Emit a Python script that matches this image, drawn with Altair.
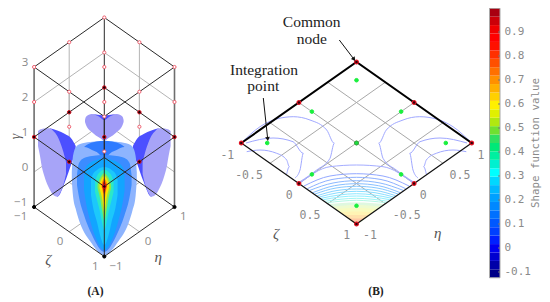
import altair as alt
import pandas as pd

# ---- axes of the two wireframes: (zeta, eta, gamma)
WIRE_BLACK = [
    [(-1,-1,3),(-1,1,3),(1,1,3),(1,-1,3),(-1,-1,3)],
    [(-1,-1,1),(-1,1,1),(1,1,1),(1,-1,1),(-1,-1,1)],
    [(-1,-1,-1),(-1,1,-1),(1,1,-1),(1,-1,-1),(-1,-1,-1)],
    [(1,-1,-1),(1,-1,3)],
    [(-1,1,-1),(-1,1,3)],
]
WIRE_SIDES = [[(-1,-1,-1),(-1,-1,3)], [(1,1,-1),(1,1,3)]]
WIRE_GRAY = [
    [(-1,-1,2),(-1,1,2),(1,1,2)],
    [(-1,-1,0),(-1,1,0),(1,1,0)],
    [(0,-1,-1),(0,1,-1)],
    [(-1,0,-1),(1,0,-1)],
    [(0,-1,1),(0,-1,3)],
    [(-1,0,1),(-1,0,3)],
    [(1,0,1),(1,0,3)],
    [(0,1,1),(0,1,3)],
]
NODES_SOLID = [(-1,-1,1),(1,1,1),(-1,0,1),(0,1,1),(-1,1,1),(0,-1,1),(1,0,1),(1,-1,1),(0,0,1)]
NODES_BASE = [(-1,-1,-1),(1,1,-1),(1,-1,-1)]
NODES_OPEN = [(-1,1,3),(-1,0,3),(0,1,3),(-1,-1,3),(1,1,3),(-1,1,2),(0,-1,3),(1,0,3),(0,0,3),
              (0,-1,2),(1,0,2),(0,0,2),(-1,-1,2),(1,1,2),(1,-1,3),(1,-1,2)]

# ---- solids of panel A: half outline, mirrored around the axis
AXIS_A = 104.3
LAYERS_A = [
    ("#8db4fe", [71.8,73,76,80,90,104.3], [172,156,147,144,142,141], [180,196,210,223,241,255]),
    ("#2e7bff", [84,88.3,92,96.7,104.3], [147,144,142.5,141.5,140.7], [147,148,150,152,158]),
    ("#3b8cff", [77,79,84,92,104.3], [175,163,158,156,155], [185,197,215,235,252]),
    ("#12a5ff", [84,85.5,90,96.7,104.3], [176,168,163,160,158], [190,200,220,240,250]),
    ("#1cc8fb", [91,93,97,100,104.3], [180,174,170,168,167], [195,207,222,235,245]),
    ("#2be8c8", [95,97,100,102,104.3], [182,176,172,170.5,170], [192,200,212,222,230]),
    ("#8de84a", [97.5,100,102,104.3], [185,178,175,173], [188,198,210,220]),
    ("#ffe000", [99.5,102,104.3], [184,178,176], [188,198,212]),
    ("#ff8a00", [101.5,103,104.3], [184,180,178.5], [186,193,202]),
    ("#f01000", [102.5,104.3], [185,181], [186,194]),
]
TOP_LOBE = [
    ("#a09cf8", [85,86,91.7,100,104.3], [120,116.7,114,115,117], [122,125,132,138,140.7]),
    ("#4c50ff", [93,98,104.3], [114.5,115,115.5], [114.5,116,120]),
]
SIDE_DARK = ([50,57.3,65,71.7,75.7], [128.3,130.5,134,139,146], [129,196.7,181.7,163,152])
SIDE_PALE = ([38,40,41.7,44,50,53.3,57.3,60,63.3,66],
             [131,129.5,129,128.5,128.3,131,136,142,151.7,162],
             [146,156,166,175,190,195,196.7,193,185,174])

# ---- contours of panel B
AXIS_B = 356.5
LOBE_OUTER = [(241.7,142.7),(260,126.7),(276.7,119),(293.3,116.7),(310,120),(326.7,130),(334.3,143.3),(330,158.3),(316.7,170),(300,181.7)]
LOBE_MIDDLE = [(246,143),(273,138),(293,141.7),(303.3,153.3),(300,170),(295,178)]
LOBE_INNER = [(246.7,151.7),(260,150),(276.7,153.3),(286.7,160),(289.3,166.7),(286.7,174)]
# left end x, left end y, shoulder x, shoulder y, apex y, colour
ARCS = [
    (299.5,183.5,330,166.7,165,"#a4acff"),
    (304,186,330,176,173.7,"#93a8ff"),
    (307.3,188.7,332,179.5,177.3,"#8eb0ff"),
    (310,190.3,333,183,180.7,"#8ab8ff"),
    (312.7,192.7,334.5,185.7,183.7,"#88c0ff"),
    (315,194,336,188,186.3,"#88caff"),
    (317.3,195.7,337,190.5,189,"#88d4ff"),
    (319.3,197,338,192.7,191.3,"#88deff"),
    (321.3,198.3,339,195,193.7,"#8ce8ff"),
    (323.3,199.7,340,197,196,"#92f0ff"),
    (325.3,201.3,341,199.2,198.3,"#a0f6f4"),
    (327.3,202.7,342,201.1,200.3,"#b4f8e4"),
]
TIP_FILLS = [
    (328,204,202.5,"#dff8e0"),
    (332,206.5,205,"#eefbd0"),
    (336,209,208,"#f8fbc0"),
    (340,212,211.5,"#fff4b4"),
    (344,215,215,"#ffe2ac"),
    (348,218,218.5,"#ffc8a4"),
    (352,221,221.5,"#ffb0a0"),
]
GAUSS = [-0.775, 0, 0.775]
GRID_B = [-0.5, 0, 0.5]
NODES_B = [(-1,-1),(-1,0),(-1,1),(0,-1),(0,1),(1,-1),(1,0),(1,1)]

# ---- colour bar
BAR_COLORS = ["#000088","#0000a8","#0000d0","#0000f0","#0020ff","#0040ff","#0058ff","#0070ff",
              "#0088ff","#00a0ff","#00b8ff","#00d8ff","#00ffff","#00f0d0","#00f0a0","#00e878",
              "#30e060","#70e030","#b0e810","#e0f000","#fff000","#ffd000","#ffb000","#ff9000",
              "#ff7000","#ff5000","#ff3000","#ff1000","#ff0000","#f00000","#cc0008","#a80010"]
BAR_LOW, BAR_HIGH = -0.124, 0.999
BAR_TICKS = ["-0.1","0","0.1","0.2","0.3","0.4","0.5","0.6","0.7","0.8","0.9"]

# ---- texts
LABELS_A = [("3",25,62.7),("2",25,97.7),("1",25,133.3),("0",25,167.7),("\u22121",20.7,203.3),
            ("\u22121",20.7,217.3),("0",60,242.3),("1",95.3,266.7),("\u22121",116,266.7),("0",148,242.3),("1",183.3,216.7)]
LABELS_B = [("-1",227.3,155.7),("-0.5",249,175.7),("0",289.3,195.7),("0.5",310,215.7),("1",346.7,236),
            ("-1",370,236),("-0.5",406.7,215.5),("0",423.3,195.5),("0.5",460,175.5),("1",481,155.5)]
GREEK = [("\u03b6",48.3,260),("\u03b7",158.3,256.7),("\u03b6",276,233.5),("\u03b7",437.7,233)]
NOTES = [("Common",311.7,22),("node",311.7,38.5),("Integration",264,69.5),("point",263.3,86)]
PANELS = [("(A)",95.5,292),("(B)",376,292)]
ARROWS = [((339.3,40),(354,59.3),143), ((263.3,98),(267.7,139),174)]

FRAME_X = alt.Scale(domain=[8,542], range=[0,534], nice=False, zero=False)
FRAME_Y = alt.Scale(domain=[8,300], range=[0,292], nice=False, zero=False)
X = alt.X("x:Q", scale=FRAME_X, axis=None)
Y = alt.Y("y:Q", scale=FRAME_Y, axis=None)
Y2 = alt.Y2("y2:Q")


def proj_a(z, e, g):
    return (AXIS_A + 35.1 * (z + e), 207 + 24.75 * (z - e) - 35 * (g + 1))


def proj_b(z, e):
    return (AXIS_B + 57.6 * (z + e), 143 + 40.5 * (z - e))


def bar_y(v):
    return 248 - 240 * v


def lines(polys, color, width, **kw):
    rows = [{"x": p[0], "y": p[1], "id": k, "i": i} for k, poly in enumerate(polys) for i, p in enumerate(poly)]
    return alt.Chart(pd.DataFrame(rows)).mark_line(color=color, strokeWidth=width, **kw).encode(
        x=X, y=Y, detail="id:N", order="i:Q")


def area(xs, tops, bots, color, axis=None, flip=False, opacity=1.0):
    rows = list(zip(xs, tops, bots))
    if axis is not None:
        if flip:
            rows = [(2 * axis - a, b, c) for a, b, c in rows]
        else:
            rows = rows + [(2 * axis - a, b, c) for a, b, c in reversed(rows[:-1])]
    df = pd.DataFrame(rows, columns=["x", "y", "y2"])
    return alt.Chart(df).mark_area(color=color, interpolate="monotone", opacity=opacity, line=False).encode(x=X, y=Y, y2=Y2)


def dots(pts, fill, stroke, size, width=1.0, shape="circle"):
    df = pd.DataFrame(pts, columns=["x", "y"])
    return alt.Chart(df).mark_point(filled=False, fill=fill, stroke=stroke, size=size, strokeWidth=width,
                                    shape=shape, opacity=1, fillOpacity=1).encode(x=X, y=Y)


def texts(items, font, size, color, **kw):
    df = pd.DataFrame(items, columns=["t", "x", "y"])
    return alt.Chart(df).mark_text(font=font, fontSize=size, color=color, baseline="middle", **kw).encode(x=X, y=Y, text="t:N")


layers = []

# Panel A ---------------------------------------------------------
layers.append(lines([[proj_a(*p) for p in poly] for poly in WIRE_GRAY], "#b4b4b4", 1))
for xs, tops, bots in [SIDE_DARK]:
    layers.append(area(xs, tops, bots, "#4c50ff"))
    layers.append(area(xs, tops, bots, "#4c50ff", axis=AXIS_A, flip=True))
for xs, tops, bots in [SIDE_PALE]:
    layers.append(area(xs, tops, bots, "#a7a4f8"))
    layers.append(area(xs, tops, bots, "#a7a4f8", axis=AXIS_A, flip=True))
for color, xs, tops, bots in TOP_LOBE + LAYERS_A:
    layers.append(area(xs, tops, bots, color, axis=AXIS_A))
layers.append(lines([[proj_a(*p) for p in poly] for poly in WIRE_SIDES], "#6e6e6e", 1.6))
layers.append(lines([[proj_a(*p) for p in poly] for poly in WIRE_BLACK], "#2a2a2a", 1))
layers.append(dots([proj_a(*p) for p in NODES_OPEN], "#ffffff", "#f06070", 10, 1))
layers.append(dots([proj_a(*p) for p in NODES_SOLID], "#1a0006", "#d81020", 12, 1))
layers.append(dots([proj_a(*p) for p in NODES_BASE], "#000000", "#000000", 10, 1))
layers.append(texts(LABELS_A, "Open Sans", 11.5, "#8a8a8a"))
layers.append(texts([("\u03b3", 16, 136.5)], "Liberation Serif", 14, "#555555", angle=270, fontStyle="italic"))

# Panel B ---------------------------------------------------------
for left_x, left_y, apex, color in TIP_FILLS:
    edge = [left_y, left_y + (AXIS_B - left_x) * 0.352, 223.5]
    layers.append(area([left_x, (left_x + AXIS_B) / 2, AXIS_B],
                       [left_y, apex + (left_y - apex) * 0.25, apex], edge, color, axis=AXIS_B))
grid = []
for v in GRID_B:
    grid.append([proj_b(v, -1), proj_b(v, 1)])
    grid.append([proj_b(-1, v), proj_b(1, v)])
layers.append(lines(grid, "#a8a8a8", 1))

lobes = [LOBE_OUTER, LOBE_MIDDLE, LOBE_INNER]
lobes_right = [[(2 * AXIS_B - a, b) for a, b in poly] for poly in lobes]
layers.append(lines(lobes + lobes_right, "#a0a8ff", 1, interpolate="monotone"))
for lx, ly, sx, sy, apex, color in ARCS:
    arc = [(lx, ly), (sx, sy), (AXIS_B, apex), (2 * AXIS_B - sx, sy), (2 * AXIS_B - lx, ly)]
    layers.append(lines([arc], color, 1, interpolate="monotone"))

layers.append(lines([[proj_b(-1,-1), proj_b(1,-1), proj_b(1,1)]], "#111111", 1.2))
layers.append(lines([[proj_b(-1,-1), proj_b(-1,1), proj_b(1,1)]], "#000000", 2))
layers.append(dots([proj_b(a, b) for a in GAUSS for b in GAUSS], "#18f03c", "#18f03c", 13, 1))
layers.append(dots([proj_b(*p) for p in NODES_B], "#300008", "#e01020", 14, 1.2))
layers.append(dots([proj_b(0, 0)], "#18e040", "#40a040", 16, 1))
layers.append(lines([[a, b] for a, b, _ in ARROWS], "#111111", 1))
arrow_df = pd.DataFrame([{"x": b[0], "y": b[1], "a": ang} for _, b, ang in ARROWS])
layers.append(alt.Chart(arrow_df).mark_point(shape="triangle-up", filled=True, color="#111111", size=22, opacity=1).encode(
    x=X, y=Y, angle=alt.Angle("a:Q", scale=None)))
layers.append(texts(LABELS_B, "DejaVu Sans Mono", 11.5, "#8a8a8a"))
layers.append(texts(GREEK, "Liberation Serif", 15, "#555555", fontStyle="italic"))
layers.append(texts(NOTES, "Liberation Serif", 15.5, "#222222"))
layers.append(texts(PANELS, "Liberation Serif", 11.5, "#222222", fontWeight="bold"))

# Colour bar ------------------------------------------------------
step = (BAR_HIGH - BAR_LOW) / len(BAR_COLORS)
bar = pd.DataFrame([{"x": 489.5, "x2": 500, "y": bar_y(BAR_LOW + i * step), "y2": bar_y(BAR_LOW + (i + 1) * step), "c": c}
                    for i, c in enumerate(BAR_COLORS)])
layers.append(alt.Chart(bar).mark_rect(strokeWidth=0).encode(
    x=X, x2=alt.X2("x2:Q"), y=Y, y2=Y2, color=alt.Color("c:N", scale=None, legend=None)))
frame = [[(489.5, bar_y(BAR_LOW)), (489.5, bar_y(BAR_HIGH)), (500, bar_y(BAR_HIGH)), (500, bar_y(BAR_LOW)), (489.5, bar_y(BAR_LOW))]]
layers.append(lines(frame, "#a8a8a8", 1))
layers.append(lines([[(498, bar_y(float(t))), (500, bar_y(float(t)))] for t in BAR_TICKS], "#777777", 1))
layers.append(texts([(t, 504.5, bar_y(float(t))) for t in BAR_TICKS], "DejaVu Sans Mono", 11, "#8a8a8a", align="left"))
layers.append(texts([("Shape function value", 535.5, 143)], "DejaVu Sans Mono", 10.8, "#8a8a8a", angle=270))

chart = alt.layer(*layers).properties(
    width=534, height=292, padding=0, background="#ffffff",
    autosize=alt.AutoSizeParams(type="none", contains="content"),
).configure_view(stroke=None)
chart.save("out.html", embed_options={"renderer": "svg", "actions": False})
